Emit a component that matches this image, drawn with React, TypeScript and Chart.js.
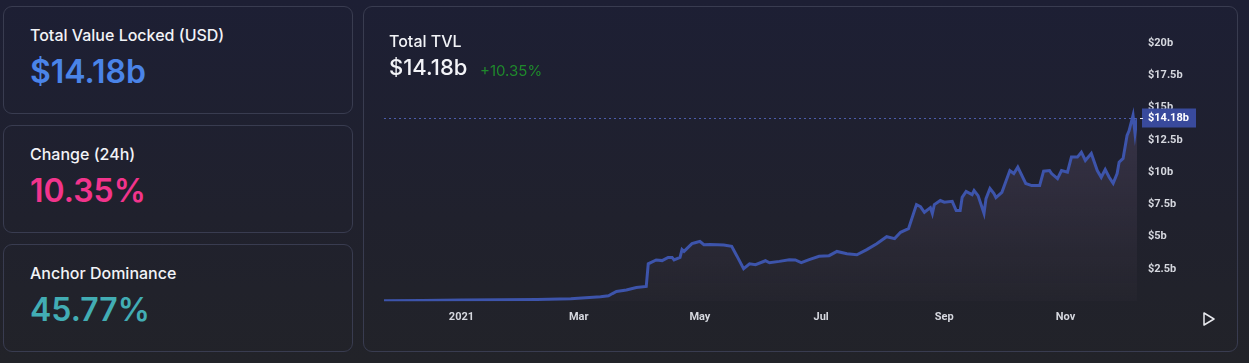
import React, { useEffect, useRef } from "react";
import { Chart, registerables } from "chart.js";

Chart.register(...registerables);

// Days since 2021-01-01
const dayOffsets = [
  -39, -20, 0, 20, 38, 55, 70, 74, 76, 78, 83, 88, 93, 94, 98, 101, 104, 106, 107, 110,
  111, 112, 116, 118, 120, 122, 125, 129, 132, 136, 138, 139, 142, 145, 148, 153, 155, 160,
  165, 168, 171, 175, 180, 185, 189, 194, 199, 204, 209, 214, 218, 221, 225, 229, 231, 233,
  236, 237, 238, 241, 243, 247, 249, 251, 252, 254, 257, 258, 260, 263, 264, 266, 268, 269,
  272, 276, 278, 280, 284, 287, 291, 293, 296, 297, 300, 302, 305, 307, 310, 312, 314, 317,
  320, 322, 324, 326, 328, 330, 331, 333, 335, 336, 338, 339, 340,
];
// TVL in billions USD
const tvlBillions = [
  0.04, 0.07, 0.1, 0.12, 0.14, 0.2, 0.35, 0.43, 0.6, 0.76, 0.87, 1.07, 1.15, 2.9, 3.2, 3.15, 3.4, 3.4, 3.2, 3.4,
  4.0, 3.86, 4.46, 4.55, 4.64, 4.38, 4.4, 4.38, 4.35, 4.25, 3.68, 3.4, 2.52, 2.9, 2.83, 3.14, 2.98, 3.09,
  3.22, 3.2, 3.0, 3.22, 3.48, 3.53, 3.86, 3.68, 3.6, 4.0, 4.46, 5.0, 4.85, 5.34, 5.62, 7.49, 7.33, 6.89,
  7.25, 6.79, 7.49, 7.8, 7.67, 7.74, 7.02, 7.02, 8.05, 8.5, 8.26, 8.57, 8.18, 6.81, 7.95, 8.73, 8.34, 8.03,
  8.44, 10.12, 9.89, 10.38, 9.12, 8.96, 8.96, 10.07, 10.12, 9.89, 9.5, 10.12, 9.99, 11.16, 11.16, 11.54, 10.9, 11.44,
  10.12, 9.6, 10.2, 9.6, 9.14, 9.89, 10.77, 11.06, 12.84, 13.2, 14.4, 13.0, 14.18,
];

const xTickDays = [0, 59, 120, 181, 243, 304];
const xTickLabels = ["2021", "Mar", "May", "Jul", "Sep", "Nov"];
const yTickValues = [2.5, 5, 7.5, 10, 12.5, 15, 17.5, 20];

const statCards = [
  { title: "Total Value Locked (USD)", value: "$14.18b", color: "#4a84e8" },
  { title: "Change (24h)", value: "10.35%", color: "#f2348c" },
  { title: "Anchor Dominance", value: "45.77%", color: "#42adb4" },
];

const headerTitle = "Total TVL";
const headerValue = "$14.18b";
const headerChange = "+10.35%";
const lastLabel = "$14.18b";

const FONT = "Inter, 'Noto Sans', sans-serif";
const AXIS_FONT = "Roboto, 'Liberation Sans', sans-serif";

function fmtB(v: number) {
  return "$" + v + "b";
}

export default function App() {
  const canvasRef = useRef<HTMLCanvasElement | null>(null);

  useEffect(() => {
    document.body.style.margin = "0";
    const canvas = canvasRef.current;
    if (!canvas) return;

    const lastPlugin = {
      id: "lastPrice",
      afterDraw(chart: any) {
        const { ctx, chartArea } = chart;
        const ys = chart.scales.y;
        const lastV = tvlBillions[tvlBillions.length - 1];
        const y = Math.round(ys.getPixelForValue(lastV)) + 0.5;
        ctx.save();
        ctx.strokeStyle = "rgba(80,100,185,0.9)";
        ctx.lineWidth = 1;
        ctx.setLineDash([2, 3]);
        ctx.beginPath();
        ctx.moveTo(chartArea.left, y);
        ctx.lineTo(chartArea.right, y);
        ctx.stroke();
        ctx.setLineDash([]);
        // tag
        const bx = chartArea.right + 5;
        ctx.fillStyle = "#394a9c";
        ctx.fillRect(bx, y - 10, 54, 19);
        ctx.strokeStyle = "#e6e8ef";
        ctx.beginPath();
        ctx.moveTo(chartArea.right + 3, y);
        ctx.lineTo(chartArea.right + 6, y);
        ctx.stroke();
        ctx.fillStyle = "#ffffff";
        ctx.font = "bold 11px " + AXIS_FONT;
        ctx.textBaseline = "middle";
        ctx.textAlign = "left";
        ctx.fillText(lastLabel, chartArea.right + 11, y);
        ctx.restore();
      },
    };

    const chart = new Chart(canvas, {
      type: "line",
      data: {
        datasets: [
          {
            data: dayOffsets.map((d, i) => ({ x: d, y: tvlBillions[i] })),
            borderColor: "#3d54ab",
            borderWidth: 3,
            pointRadius: 0,
            tension: 0,
            fill: "origin",
            backgroundColor: (ctx: any) => {
              const area = ctx.chart.chartArea;
              if (!area) return "rgba(120,100,130,0.2)";
              const g = ctx.chart.ctx.createLinearGradient(0, area.top, 0, area.bottom);
              g.addColorStop(0, "rgba(130,110,150,0.36)");
              g.addColorStop(1, "rgba(120,100,120,0.04)");
              return g;
            },
          },
        ],
      },
      options: {
        animation: false,
        responsive: true,
        maintainAspectRatio: false,
        layout: { padding: { left: 20, right: 0, top: 23, bottom: 18.5 } },
        plugins: { legend: { display: false }, tooltip: { enabled: false } },
        scales: {
          x: {
            type: "linear",
            min: dayOffsets[0],
            max: dayOffsets[dayOffsets.length - 1],
            grid: { display: false, drawTicks: false, tickLength: 0 },
            border: { display: false },
            afterBuildTicks: (scale: any) => {
              scale.ticks = xTickDays.map((v) => ({ value: v }));
            },
            ticks: {
              autoSkip: false,
              maxRotation: 0,
              padding: 9,
              color: "#d6d8df",
              font: { family: AXIS_FONT, size: 11, weight: "bold" },
              callback: (v: any) => {
                const i = xTickDays.indexOf(Number(v));
                return i >= 0 ? xTickLabels[i] : "";
              },
            },
          },
          y: {
            position: "right",
            min: 0,
            max: 21,
            grid: { display: false, drawTicks: false, tickLength: 0 },
            border: { display: false },
            afterBuildTicks: (scale: any) => {
              scale.ticks = yTickValues.map((v) => ({ value: v }));
            },
            afterFit: (scale: any) => {
              scale.width = 100;
            },
            ticks: {
              padding: 11,
              crossAlign: "near",
              color: "#d6d8df",
              font: { family: AXIS_FONT, size: 11, weight: "bold" },
              callback: (v: any) => fmtB(Number(v)),
            },
          },
        },
      },
      plugins: [lastPlugin],
    } as any);

    return () => chart.destroy();
  }, []);

  const cardTops = [6, 125, 244];

  return (
    <div
      style={{
        position: "fixed",
        left: 0,
        top: 0,
        width: 1249,
        height: 363,
        background: "linear-gradient(180deg, #1d1f34 0%, #20212d 60%, #222329 100%)",
        fontFamily: FONT,
        overflow: "hidden",
      }}
    >
      {statCards.map((c, i) => (
        <div
          key={c.title}
          style={{
            position: "absolute",
            left: 3,
            top: cardTops[i],
            width: 348,
            height: 106,
            border: "1px solid #393c50",
            borderRadius: 9,
          }}
        >
          <div
            style={{
              position: "absolute",
              left: 26,
              top: 20,
              fontSize: 16,
              lineHeight: "16px",
              fontWeight: 500,
              color: "#f2f3f7",
              whiteSpace: "nowrap",
            }}
          >
            {c.title}
          </div>
          <div
            style={{
              position: "absolute",
              left: 26,
              top: 49,
              fontSize: 32,
              lineHeight: "32px",
              fontWeight: 600,
              color: c.color,
              whiteSpace: "nowrap",
            }}
          >
            {c.value}
          </div>
        </div>
      ))}

      <div
        style={{
          position: "absolute",
          left: 363,
          top: 6,
          width: 873,
          height: 344,
          border: "1px solid #393c50",
          borderRadius: 9,
        }}
      />
      <div style={{ position: "absolute", left: 364, top: 7, width: 873, height: 344 }}>
        <canvas ref={canvasRef} />
      </div>

      <div
        style={{
          position: "absolute",
          left: 389,
          top: 33,
          fontSize: 16,
          lineHeight: "16px",
          fontWeight: 500,
          color: "#f2f3f7",
          whiteSpace: "nowrap",
        }}
      >
        {headerTitle}
      </div>
      <div
        style={{
          position: "absolute",
          left: 389,
          top: 56,
          fontSize: 22,
          lineHeight: "22px",
          fontWeight: 500,
          color: "#f2f3f7",
          whiteSpace: "nowrap",
        }}
      >
        {headerValue}
      </div>
      <div
        style={{
          position: "absolute",
          left: 480,
          top: 63,
          fontSize: 15,
          lineHeight: "15px",
          fontWeight: 400,
          color: "#1f8a2c",
          whiteSpace: "nowrap",
        }}
      >
        {headerChange}
      </div>

      <svg
        width={16}
        height={16}
        style={{ position: "absolute", left: 1201, top: 311 }}
        viewBox="0 0 16 16"
      >
        <path d="M3 2 L13 8 L3 14 Z" fill="none" stroke="#e8e9ee" strokeWidth={1.5} strokeLinejoin="round" />
      </svg>
    </div>
  );
}
